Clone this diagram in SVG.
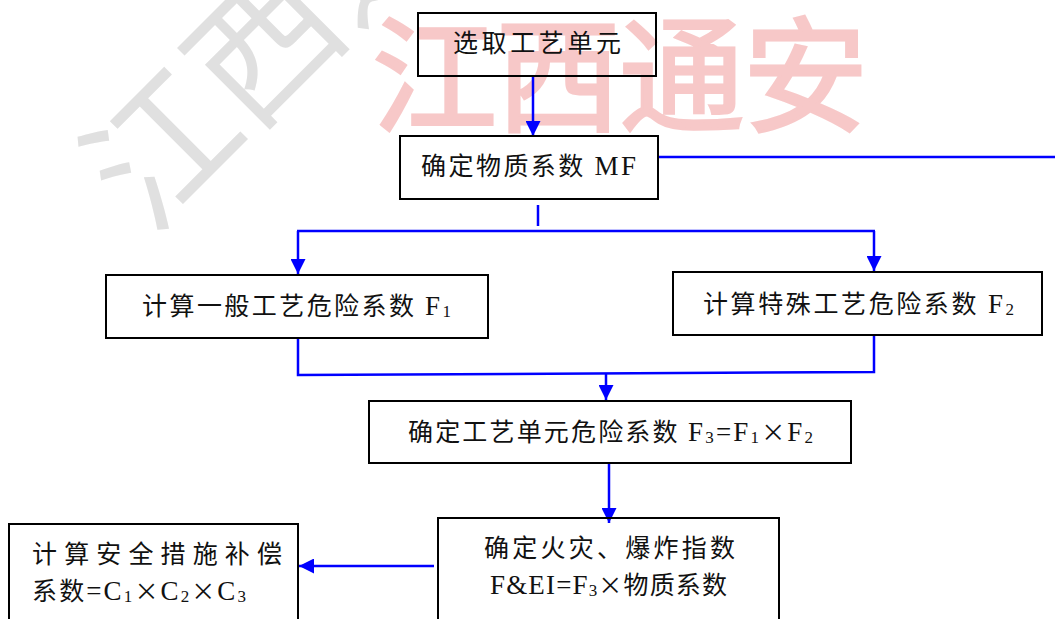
<svg xmlns="http://www.w3.org/2000/svg" width="1055" height="619" viewBox="0 0 1055 619">
<defs>
<style>
.box{fill:none;stroke:#000;stroke-width:2}
.t{font-family:"Liberation Serif","Noto Sans CJK SC",serif;font-size:25px;fill:#111}
.lat{font-family:"Liberation Serif",serif;font-size:27px}
.sub{font-family:"Liberation Serif",serif;font-size:17px}
.x{font-family:"Noto Sans CJK SC",sans-serif;font-size:24px}
.c{fill:none;stroke:#0000ff;stroke-width:2.5}
.wm{font-family:"Noto Sans CJK SC",sans-serif}
</style>
<marker id="ah" viewBox="0 0 10 10" refX="10" refY="5" markerWidth="15" markerHeight="15" markerUnits="userSpaceOnUse" orient="auto">
<path d="M0,0 L10,5 L0,10 z" fill="#0000ff"/>
</marker>
</defs>
<rect width="1055" height="619" fill="#fff"/>
<g id="watermark">
<text class="wm" x="372" y="122" font-size="125" textLength="496" lengthAdjust="spacing" fill="#f7c8c8" stroke="#f7c8c8" stroke-width="3">江西通安</text>
<text class="wm" x="148" y="236" font-size="145" fill="#e0e0e0" transform="rotate(-45 148 236)">江西通安</text>
</g>
<g id="connectors">
<line class="c" x1="533" y1="76" x2="533" y2="136" marker-end="url(#ah)"/>
<line class="c" x1="658" y1="157" x2="1055" y2="157"/>
<line class="c" x1="538" y1="205" x2="538" y2="226"/>
<line class="c" x1="297" y1="231" x2="875" y2="231"/>
<line class="c" x1="298" y1="231" x2="298" y2="274" marker-end="url(#ah)"/>
<line class="c" x1="874" y1="231" x2="874" y2="271" marker-end="url(#ah)"/>
<polyline class="c" points="298,338 298,375 874,372 874,335"/>
<line class="c" x1="606" y1="373" x2="606" y2="400" marker-end="url(#ah)"/>
<line class="c" x1="609" y1="463" x2="609" y2="523" marker-end="url(#ah)"/>
<line class="c" x1="434" y1="566" x2="299" y2="566" marker-end="url(#ah)"/>
</g>
<g id="n1">
<rect class="box" x="418" y="13" width="238" height="63"/>
<text class="t" x="453" y="52" textLength="168" lengthAdjust="spacing">选取工艺单元</text>
</g>
<g id="n2">
<rect class="box" x="400" y="136" width="258" height="63"/>
<text class="t" x="421" y="175" textLength="215" lengthAdjust="spacing">确定物质系数 <tspan class="lat">MF</tspan></text>
</g>
<g id="n3">
<rect class="box" x="106" y="275" width="382" height="63"/>
<text class="t" x="142" y="315" textLength="309" lengthAdjust="spacing">计算一般工艺危险系数 <tspan class="lat">F</tspan><tspan class="sub" dy="2">1</tspan></text>
</g>
<g id="n4">
<rect class="box" x="673" y="272" width="369" height="63"/>
<text class="t" x="703" y="313" textLength="311" lengthAdjust="spacing">计算特殊工艺危险系数 <tspan class="lat">F</tspan><tspan class="sub" dy="2">2</tspan></text>
</g>
<g id="n5">
<rect class="box" x="369" y="401" width="482" height="62"/>
<text class="t" x="408" y="441" textLength="405" lengthAdjust="spacing">确定工艺单元危险系数 <tspan class="lat">F</tspan><tspan class="sub" dy="2">3</tspan><tspan class="lat" dy="-2">=F</tspan><tspan class="sub" dy="2">1</tspan><tspan class="x" dy="-2">×</tspan><tspan class="lat">F</tspan><tspan class="sub" dy="2">2</tspan></text>
</g>
<g id="n6">
<rect class="box" x="438" y="518" width="341" height="130"/>
<text class="t" x="484" y="557" textLength="251" lengthAdjust="spacing">确定火灾、爆炸指数</text>
<text class="t" x="490" y="594" textLength="237" lengthAdjust="spacing"><tspan class="lat">F&amp;EI=F</tspan><tspan class="sub" dy="2">3</tspan><tspan class="x" dy="-2">×</tspan>物质系数</text>
</g>
<g id="n7">
<rect class="box" x="9" y="524" width="289" height="130"/>
<text class="t" x="32" y="563" textLength="250" lengthAdjust="spacing">计算安全措施补偿</text>
<text class="t" x="32" y="600" textLength="214" lengthAdjust="spacing">系数<tspan class="lat">=C</tspan><tspan class="sub" dy="2">1</tspan><tspan class="x" dy="-2">×</tspan><tspan class="lat">C</tspan><tspan class="sub" dy="2">2</tspan><tspan class="x" dy="-2">×</tspan><tspan class="lat">C</tspan><tspan class="sub" dy="2">3</tspan></text>
</g>
</svg>
